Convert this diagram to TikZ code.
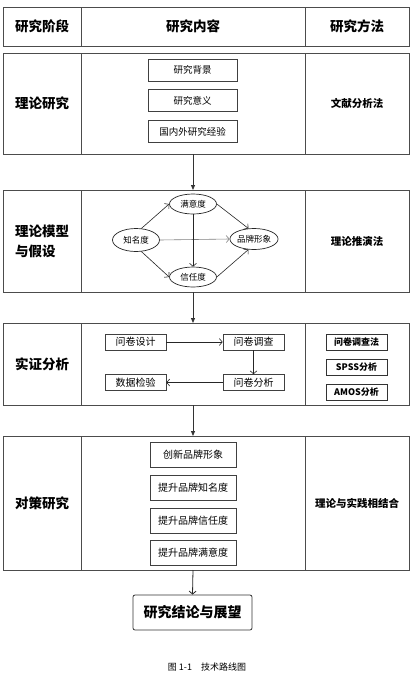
\documentclass[tikz,border=0pt]{standalone}
\usepackage{fontspec}
\setmainfont{Noto Sans CJK SC}
\usetikzlibrary{arrows.meta,chains,positioning,scopes,shapes.geometric}

\begin{document}
\begin{tikzpicture}
      [
        x = 1pt, y = -1pt,
        node distance = 8pt,
        Cell/.style={draw=black!70, line width=0.8pt, inner sep=0pt, outer sep=0pt},
        HeadCell/.style={Cell, minimum height=39pt, font=\fontsize{13.5}{16}\selectfont\bfseries},
        StageCell/.style={Cell, minimum width=78pt, align=left, font=\fontsize{13.5}{20}\selectfont\bfseries},
        ContentCell/.style={Cell, minimum width=224pt},
        MethodCell/.style={Cell, minimum width=104pt, font=\fontsize{10.5}{12}\selectfont\bfseries},
        ItemBox/.style={draw=black!75, line width=0.7pt, minimum width=89pt, minimum height=22pt, inner sep=0pt, font=\fontsize{9.5}{11}\selectfont, on chain},
        Bubble/.style={ellipse, draw=black!85, line width=0.7pt, minimum width=47pt, minimum height=20pt, inner sep=0pt, font=\fontsize{8.5}{10}\selectfont},
        StepBox/.style={draw=black!75, line width=0.7pt, minimum width=61pt, minimum height=16pt, inner sep=0pt, font=\fontsize{10}{11}\selectfont},
        ToolBox/.style={draw=black!80, line width=0.8pt, minimum width=61pt, minimum height=16pt, inner sep=0pt, font=\fontsize{9}{10}\selectfont\bfseries},
        Flow/.style={-{Triangle[length=5pt, width=4pt]}, draw=black!80, line width=0.8pt},
        Link/.style={-{Straight Barb[length=3pt, width=7pt]}, draw=black!85, line width=0.6pt},
      ]

      \useasboundingbox (0,0) rectangle (417,675);

      % header
      \node [HeadCell, minimum width=78pt] (h1) at (42,26.5) {研究阶段};
      \node [HeadCell, minimum width=224pt] (h2) at (193,26.5) {研究内容};
      \node [HeadCell, minimum width=104pt] (h3) at (357,26.5) {研究方法};

      % rows
      \node [StageCell, minimum height=101pt] (s1) at (42,103.5) {理论研究};
      \node [ContentCell, minimum height=101pt] (c1) at (193,103.5) {};
      \node [MethodCell, minimum height=101pt] (m1) at (357,103.5) {文献分析法};

      \node [StageCell, minimum height=102pt] (s2) at (42,241) {理论模型\\与假设};
      \node [ContentCell, minimum height=102pt] (c2) at (193,241) {};
      \node [MethodCell, minimum height=102pt] (m2) at (357,241) {理论推演法};

      \node [StageCell, minimum height=82pt] (s3) at (42,364) {实证分析};
      \node [ContentCell, minimum height=82pt] (c3) at (193,364) {};
      \node [MethodCell, minimum height=82pt] (m3) at (357,364) {};

      \node [StageCell, minimum height=134pt] (s4) at (42,503) {对策研究};
      \node [ContentCell, minimum height=134pt] (c4) at (193,503) {};
      \node [MethodCell, minimum height=134pt] (m4) at (357,503) {理论与实践相结合};

      % theory research
      { [start chain = going below]
      \node [ItemBox] at (192.5,70) (bg) {研究背景};
      \node [ItemBox] (yy) {研究意义};
      \node [ItemBox] (jy) {国内外研究经验};
      }

      % model
      \node [Bubble] (man) at (193,204) {满意度};
      \node [Bubble, minimum height=23pt] (zhi) at (136,240) {知名度};
      \node [Bubble, minimum height=21pt] (pin) at (254,239) {品牌形象};
      \node [Bubble] (xin) at (193,277) {信任度};

      \draw [Link] (zhi.65) -- (man.west);
      \draw [Link, draw=black!50] (zhi.east) -- (pin.west);
      \draw [Link] (zhi.-65) -- (xin.west);
      \draw [Link] (man.south) -- (xin.north);
      \draw [Link] (man.east) -- (pin.118);
      \draw [Link] (xin.east) -- (pin.-118);

      % empirical
      \node [StepBox] (sj) at (135.5,342) {问卷设计};
      \node [StepBox] (dc) at (253.5,342) {问卷调查};
      \node [StepBox] (fx) at (253.5,382.5) {问卷分析};
      \node [StepBox] (jc) at (135.5,382.5) {数据检验};

      \draw [Link] (sj.east) -- (dc.west);
      \draw [Link] (dc.south) -- (fx.north);
      \draw [Link] (fx.west) -- (jc.east);

      \node [ToolBox] (wj) at (356.5,342) {问卷调查法};
      \node [ToolBox] (spss) at (356.5,367) {SPSS分析};
      \node [ToolBox] (amos) at (356.5,392) {AMOS分析};

      % countermeasures
      { [start chain = going below, node distance=7pt]
      \node [ItemBox, minimum width=86pt, minimum height=25pt, font=\fontsize{10}{12}\selectfont] at (193,455) (cx) {创新品牌形象};
      \node [ItemBox, minimum width=86pt, minimum height=25pt, font=\fontsize{10}{12}\selectfont] (zm) {提升品牌知名度};
      \node [ItemBox, minimum width=86pt, minimum height=25pt, font=\fontsize{10}{12}\selectfont] (xr) {提升品牌信任度};
      \node [ItemBox, minimum width=86pt, minimum height=25pt, font=\fontsize{10}{12}\selectfont] (my) {提升品牌满意度};
      }

      % conclusion
      \node [draw=black!80, line width=0.8pt, rounded corners=2pt, minimum width=119pt, minimum height=35pt, font=\fontsize{14}{16}\selectfont\bfseries] (end) at (192.5,612.5) {研究结论与展望};

      \draw [Flow] (c1.south) -- (c2.north);
      \draw [Flow] (c2.south) -- (c3.north);
      \draw [Flow] (c3.south) -- (c4.north);
      \draw [Link, line width=0.8pt] (c4.south) -- (end.north);

      \node [font=\fontsize{9}{11}\selectfont] (cap) at (207,667) {图 1-1\quad 技术路线图};
    \end{tikzpicture}
\end{document}
